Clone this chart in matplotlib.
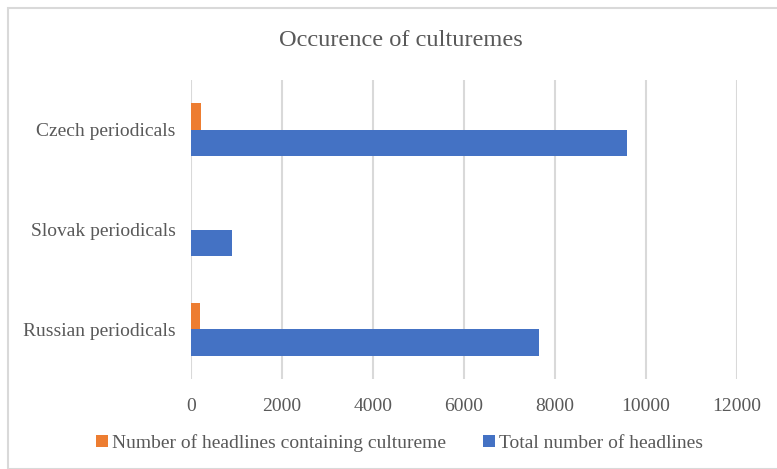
import matplotlib.pyplot as plt
from matplotlib.patches import Rectangle
import numpy as np

# data (bottom to top)
categories = ["Russian periodicals", "Slovak periodicals", "Czech periodicals"]
culture_counts = [200, 0, 230]
total_counts = [7650, 910, 9580]
series_names = ["Number of headlines containing cultureme", "Total number of headlines"]
x_ticks = [0, 2000, 4000, 6000, 8000, 10000, 12000]

orange = "#ED7D31"
blue = "#4472C4"
text_gray = "#595959"
grid_gray = "#D9D9D9"

plt.rcParams["font.family"] = ["Liberation Serif", "DejaVu Serif"]

fig = plt.figure(figsize=(7.77, 4.69), dpi=100)
W, H = 777, 469

# chart border
fig.patches.append(Rectangle((8 / W, 0), 1.0, 1 - 8 / H, transform=fig.transFigure,
                             fill=False, edgecolor="#D9D9D9", linewidth=1.5))

ax = fig.add_axes([191 / W, 1 - 379 / H, (737 - 191) / W, (379 - 80) / H])

y = np.arange(len(categories))
h = 0.266
ax.barh(y + h / 2, culture_counts, height=h, color=orange, label=series_names[0])
ax.barh(y - h / 2, total_counts, height=h, color=blue, label=series_names[1])

ax.set_xlim(0, 12000)
ax.set_ylim(-0.5, 2.5)
ax.set_xticks(x_ticks)
ax.set_xticklabels([str(t) for t in x_ticks])
ax.set_yticks(y)
ax.set_yticklabels(categories)
ax.tick_params(axis="both", length=0, labelsize=14, colors=text_gray)
ax.tick_params(axis="x", pad=14)
ax.tick_params(axis="y", pad=11)
ax.grid(axis="x", color=grid_gray, linewidth=1.5)
ax.set_axisbelow(True)
for s in ax.spines.values():
    s.set_visible(False)

fig.text(401 / W, 1 - 41 / H, "Occurence of culturemes", ha="center", va="center",
         fontsize=17.6, color=text_gray)

fig.legend(loc="center", bbox_to_anchor=(399.5 / W, 1 - 443 / H), ncol=2, frameon=False,
           fontsize=14, labelcolor=text_gray, handlelength=0.6, handleheight=0.6,
           handletextpad=0.2, columnspacing=1.95, borderpad=0, borderaxespad=0)

fig.savefig("out.png", dpi=100)
